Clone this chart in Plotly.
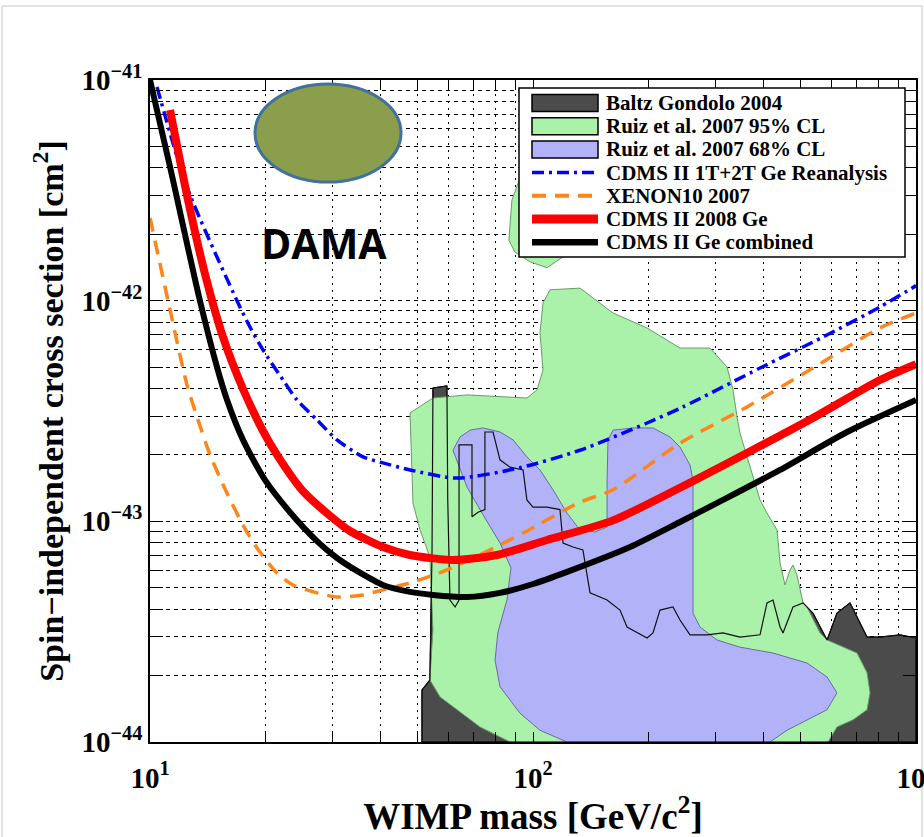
import plotly.graph_objects as go

# ---------------- data ----------------
series_names = ["Baltz Gondolo 2004", "Ruiz et al. 2007 95% CL", "Ruiz et al. 2007 68% CL",
                "CDMS II 1T+2T Ge Reanalysis", "XENON10 2007", "CDMS II 2008 Ge",
                "CDMS II Ge combined"]

# Baltz & Gondolo 2004 region (outline, closed along the bottom of the plot)
baltz_mass = [51.3, 51.3, 53.8, 54.5, 54.8, 59.6, 59.9, 60.7, 62.6, 64.1, 64.1, 69.3, 69.3,
              71.85, 74.9, 74.9, 78.65, 82.0, 87.1, 94.2, 96.4, 100, 108.8, 117.6, 119.8,
              127.2, 135.0, 140.9, 156.1, 168.7, 176.0, 198.5, 205.7, 214.6, 232.0, 242,
              257, 284.7, 313.3, 347.1, 391.5, 408.3, 423.3, 441.6, 449.5, 477.4, 507,
              538.3, 585.8, 621.9, 672.5, 714.3, 745, 805.4, 908.2, 1000, 1000, 51.3]
baltz_sigma = [1.0e-44, 1.72e-44, 1.91e-44, 7.42e-44, 4.02e-43, 4.11e-43, 1.25e-43, 4.40e-44,
               4.09e-44, 4.40e-44, 2.22e-43, 2.22e-43, 1.05e-43, 1.10e-43, 1.13e-43, 2.54e-43,
               2.54e-43, 1.90e-43, 1.76e-43, 1.71e-43, 1.25e-43, 1.16e-43, 1.16e-43, 1.13e-43,
               7.98e-44, 7.65e-44, 7.42e-44, 4.74e-44, 4.40e-44, 3.96e-44, 3.32e-44, 2.96e-44,
               3.12e-44, 3.96e-44, 4.09e-44, 3.57e-44, 3.06e-44, 3.06e-44, 3.12e-44, 2.99e-44,
               3.06e-44, 4.27e-44, 4.40e-44, 3.32e-44, 3.12e-44, 4.09e-44, 4.27e-44, 3.84e-44,
               2.90e-44, 3.84e-44, 4.27e-44, 3.46e-44, 2.99e-44, 2.99e-44, 3.06e-44, 2.96e-44,
               1.0e-44, 1.0e-44]

# Ruiz et al. 2007, 95% CL (main region and upper lobe)
ruiz95_mass = [47.74, 54.8, 67.25, 82.0, 96.4, 102.4, 106.2, 104.3, 106.2, 110.8, 132.6, 161.8,
               198.5, 242, 289.8, 321.1, 332.9, 341, 347.1, 362.2, 375.4, 391.5, 408.3, 433.6,
               441.6, 455, 468.8, 477.4, 489, 497.9, 507, 519.4, 561.6, 585.8, 701.5, 745,
               758.6, 745, 684.7, 621.9, 589.3, 87.1, 72.7, 57.2, 53.8, 54.8, 53.8, 50.7, 48.6,
               47.74]
ruiz95_sigma = [3.10e-43, 3.62e-43, 3.74e-43, 3.66e-43, 3.62e-43, 3.94e-43, 4.85e-43, 7.14e-43,
                9.76e-43, 1.12e-42, 1.14e-42, 8.79e-43, 7.52e-43, 6.10e-43, 6.10e-43, 5.00e-43,
                3.94e-43, 2.97e-43, 2.51e-43, 1.96e-43, 1.59e-43, 1.25e-43, 1.09e-43, 9.14e-44,
                6.47e-44, 5.15e-44, 6.02e-44, 6.34e-44, 5.71e-44, 4.89e-44, 4.27e-44, 4.09e-44,
                3.12e-44, 2.90e-44, 2.53e-44, 2.06e-44, 1.67e-44, 1.40e-44, 1.26e-44, 1.17e-44,
                1.0e-44, 1.0e-44, 1.17e-44, 1.60e-44, 1.91e-44, 3.22e-44, 6.89e-44, 9.14e-44,
                1.21e-43, 3.10e-43]
ruiz95_lobe_mass = [86.5, 88.1, 92.5, 107.5, 128.7, 140.9, 132.6, 119.8, 108.8, 98.2, 89.7,
                    86.5]
ruiz95_lobe_sigma = [1.88e-42, 2.86e-42, 3.60e-42, 3.83e-42, 3.60e-42, 2.58e-42, 1.85e-42,
                     1.58e-42, 1.41e-42, 1.50e-42, 1.66e-42, 1.88e-42]

# Ruiz et al. 2007, 68% CL
ruiz68_mass = [61.8, 64.5, 68.5, 74.06, 82.0, 88.7, 96.4, 104.3, 112.8, 122.7, 132.6, 145.2,
               156.1, 156.1, 157.0, 161.8, 182.4, 205.7, 227.9, 242, 257, 261.7, 261.7, 272.9,
               302.3, 347.1, 423.3, 519.4, 585.8, 621.9, 585.8, 519.4, 460.4, 415.8, 122.7,
               104.3, 92.5, 82.0, 79.6, 81.0, 85.5, 87.6, 82.0, 74.06, 67.25, 61.8]
ruiz68_sigma = [2.10e-43, 2.41e-43, 2.59e-43, 2.65e-43, 2.54e-43, 2.34e-43, 1.96e-43, 1.71e-43,
                1.39e-43, 1.09e-43, 9.14e-44, 8.95e-44, 9.43e-44, 1.54e-43, 2.34e-43, 2.59e-43,
                2.65e-43, 2.65e-43, 2.41e-43, 2.17e-43, 1.80e-43, 1.54e-43, 3.84e-44, 3.32e-44,
                2.90e-44, 2.69e-44, 2.53e-44, 2.28e-44, 1.97e-44, 1.67e-44, 1.40e-44, 1.26e-44,
                1.13e-44, 1.0e-44, 1.0e-44, 1.13e-44, 1.35e-44, 1.78e-44, 2.35e-44, 3.15e-44,
                4.40e-44, 6.15e-44, 7.98e-44, 1.07e-43, 1.43e-43, 2.10e-43]

# CDMS II 1T+2T Ge reanalysis
reanal_mass = [10.43, 12.49, 16.87, 18.24, 19.72, 22.25, 24.2, 27.29, 30.78, 35.98, 40.55,
               47.74, 63.34, 92.5, 132.6, 198.5, 246.4, 391.5, 571.5, 805, 1000]
reanal_sigma = [9.30e-42, 3.27e-42, 1.0e-42, 7.60e-43, 5.98e-43, 4.37e-43, 3.55e-43, 2.88e-43,
                2.34e-43, 1.96e-43, 1.84e-43, 1.71e-43, 1.57e-43, 1.75e-43, 2.10e-43, 2.79e-43,
                3.30e-43, 4.95e-43, 6.84e-43, 9.36e-43, 1.17e-42]

# XENON10 2007
xenon_mass = [10, 11.21, 12.49, 13.27, 14.35, 15.89, 17.49, 19.03, 21.46, 23.62, 27.29, 30.78,
              35.98, 40.55, 48.6, 59.6, 77.2, 94.2, 132.6, 161.8, 242, 362, 538, 805, 1000]
xenon_sigma = [2.37e-42, 9.56e-43, 4.15e-43, 2.97e-43, 2.00e-43, 1.34e-43, 9.62e-44, 7.57e-44,
               5.83e-44, 5.15e-44, 4.74e-44, 4.54e-44, 4.64e-44, 4.89e-44, 5.31e-44, 6.02e-44,
               7.42e-44, 8.85e-44, 1.22e-43, 1.39e-43, 2.26e-43, 3.30e-43, 4.95e-43, 7.52e-43,
               8.79e-43]

# CDMS II 2008 Ge
cdms08_mass = [11.28, 12.49, 13.92, 15.51, 17.49, 19.72, 21.46, 25.08, 29.51, 33.27, 40.55,
               47.74, 61.8, 80.5, 108.8, 161.8, 242, 362, 538, 805, 1000]
cdms08_sigma = [7.31e-42, 3.01e-42, 1.32e-42, 6.84e-43, 3.98e-43, 2.57e-43, 2.00e-43, 1.37e-43,
                1.06e-43, 9.04e-44, 7.65e-44, 7.04e-44, 6.68e-44, 7.04e-44, 8.23e-44, 1.01e-43,
                1.42e-43, 2.04e-43, 2.94e-43, 4.37e-43, 5.16e-43]

# CDMS II Ge combined
comb_mass = [10, 11.28, 13.5, 14.96, 15.89, 17.49, 19.96, 23.2, 27.29, 30.78, 34.71, 40.55,
             47.74, 54.8, 67.25, 82.0, 100, 122.7, 179.2, 242, 313.3, 441.6, 660.7, 1000]
comb_sigma = [1e-41, 4.04e-42, 1.0e-42, 5.0e-43, 3.55e-43, 2.34e-43, 1.54e-43, 1.10e-43,
              8.14e-44, 6.82e-44, 5.96e-44, 5.15e-44, 4.79e-44, 4.64e-44, 4.54e-44, 4.74e-44,
              5.20e-44, 5.9e-44, 7.65e-44, 9.93e-44, 1.25e-43, 1.71e-43, 2.54e-43, 3.55e-43]

x_major = [10, 100, 1000]
x_major_text = ["10<sup>1</sup>", "10<sup>2</sup>", "10<sup>3</sup>"]
y_major = [1e-44, 1e-43, 1e-42, 1e-41]
y_major_text = ["10<sup>\u221244</sup>", "10<sup>\u221243</sup>", "10<sup>\u221242</sup>",
                "10<sup>\u221241</sup>"]

# ---------------- styles ----------------
DARK = "#4b4b4b"
GREEN = "#aaf2aa"
BLUE = "#b2b2f8"
C_REANAL = "#0000ff"
C_XENON = "#ff8419"
C_CDMS08 = "#ff0000"
C_COMB = "#000000"
DASH_REANAL = "12px,5px,3px,5px"
DASH_XENON = "14px,9px"
SERIF = "Liberation Serif"

fig = go.Figure()

fig.add_trace(go.Scatter(x=baltz_mass, y=baltz_sigma, mode="lines", fill="toself",
                         fillcolor=DARK, line=dict(color="black", width=1),
                         name=series_names[0], hoverinfo="skip"))
fig.add_trace(go.Scatter(x=ruiz95_mass, y=ruiz95_sigma, mode="lines", fill="toself",
                         fillcolor=GREEN, line=dict(color="#6a9a6a", width=1),
                         name=series_names[1], hoverinfo="skip"))
fig.add_trace(go.Scatter(x=ruiz95_lobe_mass, y=ruiz95_lobe_sigma, mode="lines", fill="toself",
                         fillcolor=GREEN, line=dict(color="#6a9a6a", width=1),
                         name=series_names[1], hoverinfo="skip"))
fig.add_trace(go.Scatter(x=ruiz68_mass, y=ruiz68_sigma, mode="lines", fill="toself",
                         fillcolor=BLUE, line=dict(color="#6a6aa8", width=1),
                         name=series_names[2], hoverinfo="skip"))
# outline of the Baltz-Gondolo region drawn on top of the Ruiz regions
fig.add_trace(go.Scatter(x=baltz_mass, y=baltz_sigma, mode="lines",
                         line=dict(color="#111111", width=1.2), hoverinfo="skip",
                         name=series_names[0]))

fig.add_trace(go.Scatter(x=reanal_mass, y=reanal_sigma, mode="lines", name=series_names[3],
                         line=dict(color=C_REANAL, width=3.5, dash=DASH_REANAL,
                                   shape="spline", smoothing=0.7)))
fig.add_trace(go.Scatter(x=xenon_mass, y=xenon_sigma, mode="lines", name=series_names[4],
                         line=dict(color=C_XENON, width=3.5, dash=DASH_XENON,
                                   shape="spline", smoothing=0.7)))
fig.add_trace(go.Scatter(x=cdms08_mass, y=cdms08_sigma, mode="lines", name=series_names[5],
                         line=dict(color=C_CDMS08, width=8, shape="spline", smoothing=0.7)))
fig.add_trace(go.Scatter(x=comb_mass, y=comb_sigma, mode="lines", name=series_names[6],
                         line=dict(color=C_COMB, width=6, shape="spline", smoothing=0.7)))

# ---------------- axes ----------------
x_minor = [j * 10 ** k for k in range(1, 3) for j in range(2, 10)]
y_minor = [j * 10.0 ** k for k in range(-44, -41) for j in range(2, 10)]

axis_common = dict(type="log", ticks="inside", tickcolor="black", tickwidth=1.2,
                   showline=True, linecolor="black", linewidth=1.6, mirror="all",
                   showgrid=True, gridcolor="black", gridwidth=1.1, zeroline=False,
                   ticklabeloverflow="allow", automargin=False,
                   tickfont=dict(family=SERIF, size=29, weight="bold", color="black"))

fig.update_xaxes(range=[1, 3], tickmode="array", tickvals=x_major, ticktext=x_major_text,
                 ticklen=10, griddash="2px,5px", ticklabelstandoff=9,
                 minor=dict(tickmode="array", tickvals=x_minor, ticks="inside", ticklen=10,
                            tickcolor="black", tickwidth=1.2, showgrid=True, gridcolor="black",
                            gridwidth=1.1, griddash="2px,5px"),
                 title=dict(text="WIMP mass [GeV/c<sup>2</sup>]", standoff=4,
                            font=dict(family=SERIF, size=37, weight="bold", color="black")),
                 **axis_common)
fig.update_yaxes(range=[-44, -41], tickmode="array", tickvals=y_major, ticktext=y_major_text,
                 ticklen=13, griddash="4px,4px",
                 minor=dict(tickmode="array", tickvals=y_minor, ticks="inside", ticklen=13,
                            tickcolor="black", tickwidth=1.2, showgrid=True, gridcolor="black",
                            gridwidth=1.1, griddash="4px,4px"),
                 title=dict(text="Spin\u2212independent cross section [cm<sup>2</sup>]",
                            standoff=8,
                            font=dict(family=SERIF, size=34, weight="bold", color="black")),
                 **axis_common)

L, R, T, B = 150, 8, 80, 95
W, H = 924, 837
PW, PH = W - L - R, H - T - B


def px(x):
    return (x - L) / PW


def py(y):
    return (H - B - y) / PH


shapes = []
annotations = []

# slide frame
shapes.append(dict(type="rect", xref="paper", yref="paper", x0=px(2), x1=px(922), y0=py(840),
                   y1=py(6), line=dict(color="#d9d9d9", width=1.5), fillcolor="rgba(0,0,0,0)",
                   layer="below"))

# DAMA ellipse and label
shapes.append(dict(type="circle", xref="paper", yref="paper", x0=px(255), x1=px(401),
                   y0=py(182), y1=py(84), fillcolor="#8a9e4b",
                   line=dict(color="#41719c", width=3)))
annotations.append(dict(text="<b>DAMA</b>", xref="paper", yref="paper", x=px(324), y=py(243),
                        showarrow=False, xanchor="center", yanchor="middle",
                        font=dict(family="Open Sans", size=41, color="black")))

# legend box (drawn by hand to match the compact MATLAB legend)
shapes.append(dict(type="rect", xref="paper", yref="paper", x0=px(519), x1=px(905),
                   y0=py(257), y1=py(88), fillcolor="white", line=dict(color="black", width=1.5)))
row_y = [103 + 23.2 * i for i in range(7)]
sx0, sx1 = 532, 598
fills = [DARK, GREEN, BLUE]
for i in range(3):
    shapes.append(dict(type="rect", xref="paper", yref="paper", x0=px(sx0), x1=px(sx1),
                       y0=py(row_y[i] + 8.5), y1=py(row_y[i] - 8.5), fillcolor=fills[i],
                       line=dict(color="black", width=1.5)))
line_styles = [(C_REANAL, 3.5, DASH_REANAL), (C_XENON, 4, DASH_XENON), (C_CDMS08, 9, "solid"),
               (C_COMB, 6.5, "solid")]
for i, (c, w, d) in enumerate(line_styles):
    yy = py(row_y[i + 3])
    shapes.append(dict(type="line", xref="paper", yref="paper", x0=px(sx0), x1=px(sx1),
                       y0=yy, y1=yy, line=dict(color=c, width=w, dash=d)))
for i, name in enumerate(series_names):
    annotations.append(dict(text=name, xref="paper", yref="paper", x=px(604), y=py(row_y[i]),
                            showarrow=False, xanchor="left", yanchor="middle",
                            font=dict(family=SERIF, size=21, weight="bold", color="black")))

fig.update_layout(width=W, height=H, margin=dict(l=L, r=R, t=T, b=B),
                  paper_bgcolor="white", plot_bgcolor="white", showlegend=False,
                  font=dict(family=SERIF, color="black"),
                  shapes=shapes, annotations=annotations)

fig.write_html("out.html")
